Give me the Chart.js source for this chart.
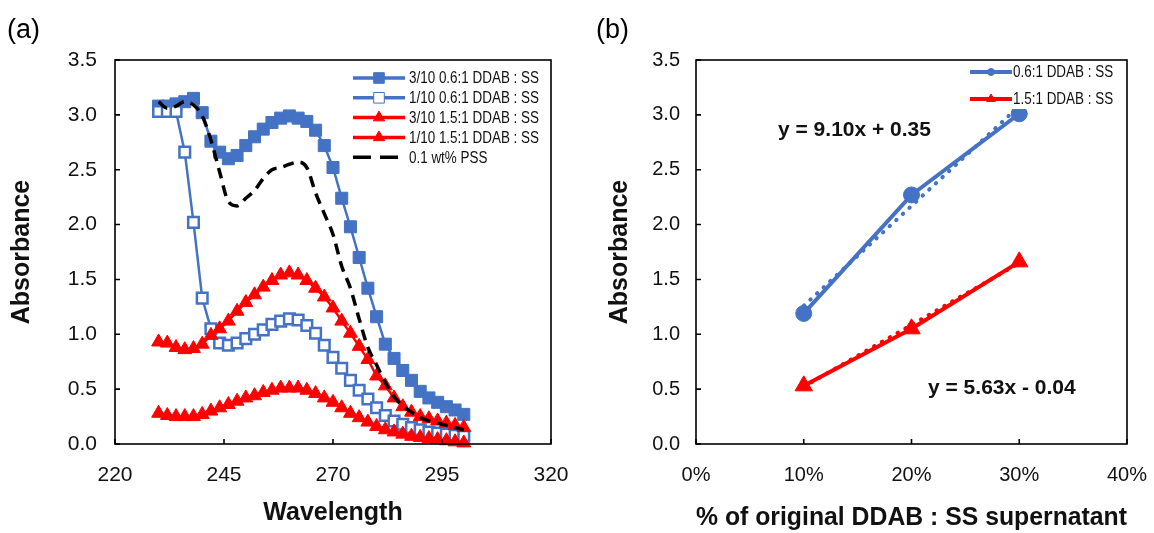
<!DOCTYPE html>
<html>
<head>
<meta charset="utf-8">
<script src="https://cdn.jsdelivr.net/npm/chart.js@4.4.0/dist/chart.umd.min.js"></script>
<style>
  html, body { margin: 0; padding: 0; background: #fff; }
  #wrap { position: relative; width: 1154px; height: 533px; }
  canvas { position: absolute; top: 0; }
  #spectra { left: 0; }
  #dilution { left: 577px; }
</style>
</head>
<body>
<div id="wrap">
  <canvas id="spectra" width="577" height="533"></canvas>
  <canvas id="dilution" width="577" height="533"></canvas>
</div>
<script>
// (a) UV spectra, 230-300 nm
const wavelengths = [230, 232, 234, 236, 238, 240, 242, 244, 246, 248, 250, 252,
  254, 256, 258, 260, 262, 264, 266, 268, 270, 272, 274, 276, 278, 280, 282, 284,
  286, 288, 290, 292, 294, 296, 298, 300];

const abs3of10Low = [3.08, 3.08, 3.10, 3.12, 3.15, 3.02, 2.76, 2.66, 2.60, 2.63, 2.72, 2.80,
  2.87, 2.93, 2.97, 2.99, 2.97, 2.94, 2.86, 2.72, 2.52, 2.24, 1.98, 1.70, 1.42, 1.16, 0.91, 0.78,
  0.67, 0.58, 0.48, 0.42, 0.38, 0.34, 0.31, 0.27];
const abs1of10Low = [3.03, 3.03, 3.03, 2.66, 2.02, 1.33, 1.05, 0.92, 0.90, 0.92, 0.96, 1.00,
  1.04, 1.09, 1.12, 1.14, 1.13, 1.08, 1.01, 0.90, 0.79, 0.69, 0.58, 0.49, 0.41, 0.33, 0.26, 0.21,
  0.18, 0.15, 0.13, 0.11, 0.10, 0.09, 0.08, 0.07];
const abs3of10High = [0.93, 0.92, 0.88, 0.86, 0.87, 0.91, 0.99, 1.05, 1.12, 1.21, 1.29, 1.36,
  1.43, 1.49, 1.54, 1.56, 1.54, 1.49, 1.42, 1.34, 1.24, 1.12, 1.01, 0.89, 0.77, 0.62, 0.53, 0.42,
  0.34, 0.29, 0.25, 0.23, 0.21, 0.19, 0.17, 0.15];
const abs1of10High = [0.28, 0.26, 0.25, 0.25, 0.25, 0.27, 0.30, 0.33, 0.36, 0.39, 0.42, 0.44,
  0.47, 0.49, 0.51, 0.51, 0.51, 0.49, 0.46, 0.42, 0.38, 0.33, 0.28, 0.24, 0.20, 0.16, 0.13, 0.11,
  0.09, 0.07, 0.06, 0.05, 0.04, 0.03, 0.02, 0.01];
const absPSS = [3.12, 3.06, 3.08, 3.12, 3.09, 2.99, 2.77, 2.48, 2.21, 2.17, 2.24, 2.31,
  2.42, 2.50, 2.52, 2.55, 2.57, 2.52, 2.29, 2.10, 1.91, 1.62, 1.42, 1.14, 0.88, 0.72, 0.56, 0.43,
  0.35, 0.29, 0.24, 0.21, 0.19, 0.17, 0.15, 0.13];
const spectraLabels = ['3/10 0.6:1 DDAB : SS', '1/10 0.6:1 DDAB : SS',
  '3/10 1.5:1 DDAB : SS', '1/10 1.5:1 DDAB : SS', '0.1 wt% PSS'];

// (b) absorbance vs. fraction of supernatant
const dilutions = [0.10, 0.20, 0.30];
const absLowRatio = [1.19, 2.27, 3.01];
const absHighRatio = [0.53, 1.05, 1.66];
const fitLowRatio = [9.10, 0.35];   // slope, intercept
const fitHighRatio = [5.63, -0.04];
const dilutionLabels = ['0.6:1 DDAB : SS', '1.5:1 DDAB : SS'];

const BLUE = '#4472C4';
const RED = '#FF0000';
const INK = '#111';

Chart.defaults.font.family = '"Liberation Sans", Arial, sans-serif';
Chart.defaults.color = INK;

const pts = (xs, ys) => xs.map((x, i) => ({ x: x, y: ys[i] }));
const fitLine = (xs, fit) => [xs[0], xs[xs.length - 1]].map(x => ({ x: x, y: fit[0] * x + fit[1] }));
const fitText = fit => `y = ${fit[0].toFixed(2)}x ${fit[1] < 0 ? '-' : '+'} ${Math.abs(fit[1]).toFixed(2)}`;

// keep the plot box where the layout padding puts it (no label overhang)
const fixX = s => { s.height = 89; s.paddingLeft = 0; s.paddingRight = 0; };
const fixY = w => s => { s.width = w; s.paddingTop = 0; s.paddingBottom = 0; };

// frame, inward ticks, legend box, notes and panel tag
const panelDecor = {
  id: 'panelDecor',
  afterDatasetsDraw(chart, args, opts) {
    const { ctx, chartArea: a, scales } = chart;
    ctx.save();
    ctx.strokeStyle = '#000';
    ctx.lineWidth = 1.6;
    ctx.strokeRect(a.left, a.top, a.right - a.left, a.bottom - a.top);
    ctx.beginPath();
    scales.x.ticks.forEach(t => {
      const px = scales.x.getPixelForValue(t.value);
      ctx.moveTo(px, a.bottom);
      ctx.lineTo(px, a.bottom - opts.tickLen);
    });
    scales.y.ticks.forEach(t => {
      const py = scales.y.getPixelForValue(t.value);
      ctx.moveTo(a.left, py);
      ctx.lineTo(a.left + opts.tickLen, py);
    });
    ctx.stroke();
    ctx.restore();
  },
  afterDraw(chart, args, opts) {
    const { ctx } = chart;
    const lg = opts.legend;
    ctx.save();
    ctx.fillStyle = '#fff';
    ctx.fillRect(lg.box[0], lg.box[1], lg.box[2], lg.box[3]);
    lg.items.forEach((idx, row) => {
      const ds = chart.data.datasets[idx];
      const y = lg.y + row * lg.rowGap;
      ctx.save();
      ctx.strokeStyle = ds.borderColor;
      ctx.lineWidth = lg.lineWidth;
      if (ds.borderDash) {
        ctx.setLineDash(lg.dash);
        ctx.beginPath();
        ctx.moveTo(lg.x, y);
        ctx.lineTo(lg.x + lg.dashLen, y);
        ctx.stroke();
      } else {
        ctx.beginPath();
        ctx.moveTo(lg.x, y);
        ctx.lineTo(lg.x + lg.lineLen, y);
        ctx.stroke();
      }
      ctx.setLineDash([]);
      if (ds.pointRadius > 0) {
        ctx.fillStyle = ds.pointBackgroundColor;
        ctx.strokeStyle = ds.borderColor;
        const m = lg.marker[ds.pointStyle] || {};
        ctx.lineWidth = m.border !== undefined ? m.border : ds.pointBorderWidth;
        Chart.helpers.drawPoint(ctx, {
          pointStyle: ds.pointStyle,
          radius: m.radius || 5,
          borderWidth: ctx.lineWidth,
          rotation: 0
        }, lg.x + lg.lineLen / 2, y);
      }
      ctx.restore();
      ctx.save();
      ctx.fillStyle = INK;
      ctx.font = `${lg.fontSize}px "Liberation Sans", Arial, sans-serif`;
      ctx.textBaseline = 'middle';
      ctx.translate(lg.x + lg.lineLen + lg.textGap, y + 1);
      ctx.scale(lg.squeeze, 1);
      ctx.fillText(ds.label, 0, 0);
      ctx.restore();
    });
    (opts.notes || []).forEach(n => {
      ctx.fillStyle = INK;
      ctx.font = n.font;
      ctx.textBaseline = 'middle';
      ctx.textAlign = 'left';
      ctx.fillText(n.text, n.x, n.y);
    });
    ctx.fillStyle = '#000';
    ctx.font = '27px "Liberation Sans", Arial, sans-serif';
    ctx.textBaseline = 'middle';
    ctx.fillText(opts.tag, opts.tagX, 31);
    ctx.restore();
  }
};

function axisTitle(text, padding) {
  return { display: true, text: text, color: INK, padding: padding,
    font: { size: 25, weight: 'bold' } };
}

// (a) spectra
new Chart(document.getElementById('spectra'), {
  type: 'line',
  data: {
    datasets: [
      { label: spectraLabels[0], data: pts(wavelengths, abs3of10Low), order: 4,
        borderColor: BLUE, borderWidth: 2.5, pointStyle: 'rect', pointRadius: 8.5,
        pointBorderWidth: 1, pointBackgroundColor: BLUE, pointBorderColor: BLUE },
      { label: spectraLabels[1], data: pts(wavelengths, abs1of10Low), order: 3,
        borderColor: BLUE, borderWidth: 2.5, pointStyle: 'rect', pointRadius: 7.5,
        pointBorderWidth: 2.5, pointBackgroundColor: '#fff', pointBorderColor: BLUE },
      { label: spectraLabels[2], data: pts(wavelengths, abs3of10High), order: 2,
        borderColor: RED, borderWidth: 2.5, pointStyle: 'triangle', pointRadius: 8,
        pointBorderWidth: 1, pointBackgroundColor: RED, pointBorderColor: RED },
      { label: spectraLabels[3], data: pts(wavelengths, abs1of10High), order: 1,
        borderColor: RED, borderWidth: 2.5, pointStyle: 'triangle', pointRadius: 8,
        pointBorderWidth: 1, pointBackgroundColor: RED, pointBorderColor: RED },
      { label: spectraLabels[4], data: pts(wavelengths, absPSS), order: 0,
        borderColor: '#000', borderWidth: 3.5, borderDash: [11, 7], pointRadius: 0,
        cubicInterpolationMode: 'monotone' }
    ]
  },
  options: {
    responsive: false,
    animation: false,
    events: [],
    clip: false,
    layout: { padding: { top: 60, right: 26, left: 0, bottom: 0 } },
    plugins: {
      legend: { display: false },
      tooltip: { enabled: false },
      panelDecor: {
        tickLen: 5,
        tag: '(a)', tagX: 7,
        legend: {
          box: [349, 63, 200, 104], x: 353, y: 78, rowGap: 19.8,
          lineLen: 52, dashLen: 45, dash: [18, 9], textGap: 4, lineWidth: 3.5,
          fontSize: 16, squeeze: 0.84,
          marker: { rect: { radius: 7.5, border: 1 }, triangle: { radius: 6.5, border: 1 } },
          items: [0, 1, 2, 3, 4]
        }
      }
    },
    scales: {
      x: {
        type: 'linear', min: 220, max: 320,
        ticks: { stepSize: 25, padding: 19, font: { size: 21 } },
        grid: { display: false, drawTicks: false },
        border: { display: false },
        title: axisTitle('Wavelength', { top: 0, bottom: 5 }),
        afterFit: fixX
      },
      y: {
        min: 0, max: 3.5,
        ticks: { stepSize: 0.5, padding: 18, font: { size: 21 }, callback: v => v.toFixed(1) },
        grid: { display: false, drawTicks: false },
        border: { display: false },
        title: axisTitle('Absorbance', { top: 7, bottom: 0 }),
        afterFit: fixY(115)
      }
    }
  },
  plugins: [panelDecor]
});

// (b) absorbance vs. supernatant fraction
new Chart(document.getElementById('dilution'), {
  type: 'line',
  data: {
    datasets: [
      { label: dilutionLabels[0], data: pts(dilutions, absLowRatio), order: 3,
        borderColor: BLUE, borderWidth: 4, pointStyle: 'circle', pointRadius: 8,
        pointBorderWidth: 1, pointBackgroundColor: BLUE, pointBorderColor: BLUE },
      { label: dilutionLabels[1], data: pts(dilutions, absHighRatio), order: 2,
        borderColor: RED, borderWidth: 4, pointStyle: 'triangle', pointRadius: 10,
        pointBorderWidth: 1, pointBackgroundColor: RED, pointBorderColor: RED },
      { label: 'fit ' + dilutionLabels[0], data: fitLine(dilutions, fitLowRatio), order: 1,
        borderColor: BLUE, borderWidth: 4, borderDash: [0.5, 8.5], borderCapStyle: 'round',
        pointRadius: 0 },
      { label: 'fit ' + dilutionLabels[1], data: fitLine(dilutions, fitHighRatio), order: 0,
        borderColor: RED, borderWidth: 4, borderDash: [0.5, 8.5], borderCapStyle: 'round',
        pointRadius: 0 }
    ]
  },
  options: {
    responsive: false,
    animation: false,
    events: [],
    clip: false,
    layout: { padding: { top: 60, right: 27, left: 0, bottom: 0 } },
    plugins: {
      legend: { display: false },
      tooltip: { enabled: false },
      panelDecor: {
        tickLen: 5,
        tag: '(b)', tagX: 19,
        legend: {
          box: [389, 63, 159, 46], x: 393, y: 72, rowGap: 27,
          lineLen: 42, textGap: 1, lineWidth: 4,
          fontSize: 16, squeeze: 0.84,
          marker: { circle: { radius: 3.5, border: 1 }, triangle: { radius: 5, border: 1 } },
          items: [0, 1]
        },
        notes: [
          { text: fitText(fitLowRatio), x: 201, y: 130, font: 'bold 21px "Liberation Sans", Arial, sans-serif' },
          { text: fitText(fitHighRatio), x: 351, y: 388, font: 'bold 21px "Liberation Sans", Arial, sans-serif' }
        ]
      }
    },
    scales: {
      x: {
        type: 'linear', min: 0, max: 0.4,
        ticks: { stepSize: 0.1, padding: 19, font: { size: 20 }, callback: v => Math.round(v * 100) + '%' },
        grid: { display: false, drawTicks: false },
        border: { display: false },
        title: axisTitle('% of original DDAB : SS supernatant', { top: 0, bottom: 0 }),
        afterFit: fixX
      },
      y: {
        min: 0, max: 3.5,
        ticks: { stepSize: 0.5, padding: 16, font: { size: 20 }, callback: v => v.toFixed(1) },
        grid: { display: false, drawTicks: false },
        border: { display: false },
        title: axisTitle('Absorbance', { top: 28, bottom: 0 }),
        afterFit: fixY(119)
      }
    }
  },
  plugins: [panelDecor]
});
</script>
</body>
</html>
